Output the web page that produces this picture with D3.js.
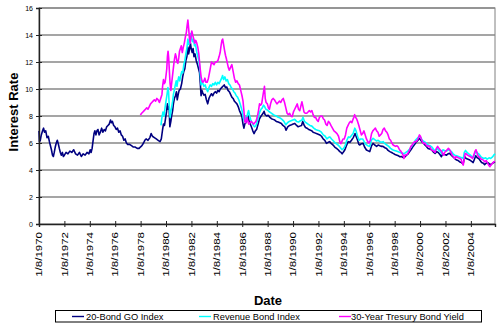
<!DOCTYPE html>
<html><head><meta charset="utf-8">
<script src="https://cdn.jsdelivr.net/npm/d3@7"></script>
<style>
html,body{margin:0;padding:0;background:#fff;}
svg{display:block;font-family:"Liberation Sans",Arial,sans-serif;}
</style></head>
<body><svg id="c" width="497" height="327"></svg>
<script>
// ---- data (decimal year, percent) ----
const goIndex = [[1970.02,6.9],[1970.06,6.1],[1970.12,6.2],[1970.2,6.6],[1970.3,6.9],[1970.38,7.1],[1970.45,6.8],[1970.55,6.9],[1970.65,6.4],[1970.75,6.5],[1970.84,6.1],[1970.92,5.8],[1971.0,5.5],[1971.08,5.1],[1971.15,5.0],[1971.22,5.3],[1971.3,5.7],[1971.38,6.0],[1971.46,6.2],[1971.55,5.9],[1971.62,5.6],[1971.7,5.3],[1971.78,5.1],[1971.86,5.3],[1971.94,5.0],[1972.02,5.1],[1972.15,5.3],[1972.3,5.2],[1972.45,5.4],[1972.6,5.3],[1972.75,5.5],[1972.9,5.2],[1973.05,5.1],[1973.2,5.3],[1973.35,5.0],[1973.5,5.2],[1973.65,5.1],[1973.8,5.3],[1973.95,5.2],[1974.05,5.5],[1974.12,5.3],[1974.2,5.6],[1974.28,6.2],[1974.35,6.7],[1974.42,6.9],[1974.5,6.6],[1974.58,6.9],[1974.66,7.0],[1974.75,6.6],[1974.85,6.8],[1974.95,7.1],[1975.05,6.8],[1975.15,7.0],[1975.25,6.9],[1975.35,7.2],[1975.45,7.3],[1975.55,7.4],[1975.65,7.7],[1975.72,7.5],[1975.8,7.6],[1975.9,7.3],[1976.0,7.2],[1976.1,7.0],[1976.2,7.1],[1976.3,6.8],[1976.4,6.9],[1976.5,6.6],[1976.6,6.5],[1976.7,6.2],[1976.8,6.3],[1976.9,6.0],[1977.0,5.9],[1977.15,5.9],[1977.3,5.8],[1977.45,5.7],[1977.6,5.7],[1977.75,5.6],[1977.9,5.6],[1978.0,5.7],[1978.12,5.8],[1978.25,6.0],[1978.35,6.2],[1978.45,6.3],[1978.6,6.2],[1978.75,6.4],[1978.85,6.7],[1978.95,6.5],[1979.1,6.4],[1979.25,6.3],[1979.4,6.2],[1979.55,6.1],[1979.65,6.3],[1979.75,7.0],[1979.82,7.4],[1979.9,7.3],[1979.98,7.8],[1980.06,8.3],[1980.13,8.9],[1980.2,8.5],[1980.26,8.7],[1980.32,7.2],[1980.4,7.6],[1980.46,8.0],[1980.54,8.4],[1980.6,8.9],[1980.68,9.3],[1980.76,9.5],[1980.84,9.8],[1980.9,9.2],[1980.98,9.6],[1981.05,9.9],[1981.15,10.0],[1981.25,10.4],[1981.33,10.9],[1981.42,11.3],[1981.5,11.5],[1981.58,12.1],[1981.66,12.4],[1981.74,13.1],[1981.8,12.6],[1981.86,12.9],[1981.94,13.4],[1982.0,13.0],[1982.08,12.7],[1982.15,13.0],[1982.22,12.4],[1982.3,12.6],[1982.4,12.1],[1982.5,11.8],[1982.58,11.5],[1982.66,11.2],[1982.72,10.4],[1982.78,9.5],[1982.84,9.9],[1982.92,9.7],[1983.0,9.55],[1983.1,9.6],[1983.2,9.2],[1983.3,8.9],[1983.4,9.3],[1983.5,9.5],[1983.6,9.65],[1983.7,9.5],[1983.8,9.7],[1983.9,9.8],[1984.0,9.7],[1984.1,9.9],[1984.2,9.8],[1984.3,10.0],[1984.4,10.1],[1984.5,10.2],[1984.6,10.3],[1984.7,10.1],[1984.8,10.15],[1984.9,9.9],[1985.0,9.8],[1985.1,9.6],[1985.2,9.4],[1985.3,9.3],[1985.4,9.1],[1985.5,9.0],[1985.6,8.9],[1985.7,8.7],[1985.8,8.4],[1985.9,8.2],[1986.0,7.9],[1986.08,7.4],[1986.15,7.1],[1986.22,7.4],[1986.3,7.5],[1986.4,7.8],[1986.48,8.0],[1986.56,7.6],[1986.65,7.4],[1986.74,7.2],[1986.85,6.9],[1986.95,6.7],[1987.05,6.9],[1987.15,7.0],[1987.27,7.4],[1987.38,7.8],[1987.48,7.95],[1987.58,8.1],[1987.66,8.2],[1987.74,8.35],[1987.82,8.1],[1987.95,8.0],[1988.06,8.05],[1988.2,7.9],[1988.32,7.8],[1988.45,7.75],[1988.58,7.7],[1988.7,7.6],[1988.85,7.55],[1988.98,7.5],[1989.1,7.45],[1989.22,7.3],[1989.37,7.2],[1989.47,6.95],[1989.6,7.2],[1989.75,7.3],[1989.9,7.35],[1990.03,7.4],[1990.16,7.45],[1990.3,7.3],[1990.42,7.2],[1990.55,7.25],[1990.69,7.3],[1990.78,7.6],[1990.9,7.3],[1991.0,7.15],[1991.12,7.1],[1991.25,7.0],[1991.4,6.95],[1991.5,6.9],[1991.6,6.8],[1991.73,6.75],[1991.86,6.7],[1992.0,6.65],[1992.13,6.6],[1992.26,6.5],[1992.39,6.3],[1992.52,6.2],[1992.65,5.97],[1992.78,6.05],[1992.9,6.1],[1993.04,5.95],[1993.17,5.85],[1993.3,5.7],[1993.44,5.6],[1993.57,5.5],[1993.7,5.36],[1993.8,5.3],[1993.88,5.2],[1994.0,5.35],[1994.1,5.5],[1994.22,5.8],[1994.36,6.1],[1994.5,6.05],[1994.62,6.2],[1994.76,6.4],[1994.9,6.7],[1994.98,6.5],[1995.1,6.2],[1995.2,5.9],[1995.28,5.85],[1995.4,5.95],[1995.54,5.97],[1995.65,5.7],[1995.8,5.48],[1995.98,5.4],[1996.06,5.36],[1996.2,5.8],[1996.32,5.97],[1996.45,5.85],[1996.6,5.75],[1996.72,5.85],[1996.85,5.8],[1997.0,5.75],[1997.1,5.75],[1997.25,5.65],[1997.38,5.6],[1997.5,5.45],[1997.64,5.36],[1997.78,5.3],[1997.9,5.23],[1998.05,5.15],[1998.2,5.1],[1998.32,5.05],[1998.43,4.98],[1998.56,5.0],[1998.69,4.93],[1998.82,4.97],[1998.95,5.1],[1999.08,5.2],[1999.2,5.36],[1999.34,5.55],[1999.47,5.75],[1999.6,5.9],[1999.74,6.1],[1999.85,6.2],[1999.94,6.35],[2000.05,6.25],[2000.15,6.1],[2000.28,6.0],[2000.4,5.85],[2000.52,5.75],[2000.65,5.6],[2000.78,5.55],[2000.92,5.5],[2001.05,5.35],[2001.2,5.23],[2001.33,5.36],[2001.45,5.3],[2001.58,5.15],[2001.7,4.98],[2001.8,5.23],[2001.95,5.15],[2002.1,5.1],[2002.22,5.2],[2002.35,5.23],[2002.48,5.1],[2002.6,4.98],[2002.75,4.85],[2002.9,4.74],[2003.02,4.7],[2003.15,4.6],[2003.28,4.55],[2003.4,4.45],[2003.47,4.7],[2003.54,4.98],[2003.65,4.85],[2003.8,4.8],[2003.94,4.74],[2004.06,4.65],[2004.2,4.55],[2004.3,4.8],[2004.4,5.05],[2004.52,4.9],[2004.64,4.85],[2004.75,4.7],[2004.86,4.55],[2005.0,4.5],[2005.1,4.4],[2005.22,4.5],[2005.35,4.55],[2005.48,4.45],[2005.6,4.4],[2005.72,4.5],[2005.82,4.55],[2005.92,4.6]];

const revenueIndex = [[1979.62,7.3],[1979.7,7.9],[1979.78,8.3],[1979.86,8.0],[1979.94,8.6],[1980.02,9.1],[1980.1,9.6],[1980.17,10.1],[1980.22,9.8],[1980.28,8.6],[1980.34,7.9],[1980.4,8.3],[1980.47,8.7],[1980.54,9.1],[1980.6,9.6],[1980.67,9.9],[1980.75,10.3],[1980.82,10.6],[1980.88,10.2],[1980.95,10.6],[1981.02,10.9],[1981.1,10.6],[1981.18,11.0],[1981.26,11.3],[1981.34,11.2],[1981.42,11.8],[1981.5,12.1],[1981.58,12.6],[1981.66,13.0],[1981.74,13.7],[1981.8,13.3],[1981.88,13.6],[1981.95,14.1],[1982.02,13.8],[1982.1,13.5],[1982.18,13.7],[1982.26,13.2],[1982.34,13.3],[1982.42,12.8],[1982.5,12.5],[1982.58,12.2],[1982.66,11.7],[1982.72,11.0],[1982.78,10.3],[1982.84,10.6],[1982.92,10.4],[1983.0,10.2],[1983.1,10.3],[1983.2,10.0],[1983.3,9.8],[1983.4,10.1],[1983.5,10.3],[1983.6,10.2],[1983.7,10.4],[1983.8,10.3],[1983.9,10.5],[1984.0,10.3],[1984.1,10.5],[1984.2,10.4],[1984.3,10.6],[1984.4,10.8],[1984.47,11.0],[1984.55,10.7],[1984.65,10.9],[1984.75,10.6],[1984.85,10.7],[1984.95,10.4],[1985.05,10.3],[1985.15,10.1],[1985.25,10.0],[1985.35,9.8],[1985.45,9.7],[1985.55,9.5],[1985.65,9.4],[1985.75,9.2],[1985.85,8.9],[1985.95,8.6],[1986.05,8.2],[1986.12,7.8],[1986.2,7.6],[1986.28,7.9],[1986.36,7.8],[1986.45,8.2],[1986.52,8.4],[1986.6,8.0],[1986.7,7.7],[1986.8,7.5],[1986.9,7.3],[1987.0,7.2],[1987.1,7.3],[1987.2,7.6],[1987.3,8.0],[1987.4,8.3],[1987.5,8.5],[1987.6,8.6],[1987.7,8.8],[1987.78,8.7],[1987.88,8.5],[1988.0,8.45],[1988.1,8.35],[1988.25,8.25],[1988.4,8.15],[1988.55,8.05],[1988.7,8.0],[1988.85,7.9],[1989.0,7.85],[1989.15,7.75],[1989.3,7.6],[1989.45,7.35],[1989.58,7.5],[1989.72,7.6],[1989.86,7.65],[1990.0,7.7],[1990.15,7.75],[1990.3,7.6],[1990.45,7.55],[1990.6,7.65],[1990.72,7.7],[1990.8,7.9],[1990.92,7.6],[1991.05,7.5],[1991.2,7.4],[1991.35,7.3],[1991.5,7.25],[1991.65,7.1],[1991.8,7.0],[1991.95,6.95],[1992.1,6.9],[1992.25,6.8],[1992.4,6.6],[1992.55,6.5],[1992.68,6.3],[1992.8,6.4],[1992.92,6.45],[1993.05,6.3],[1993.2,6.15],[1993.35,6.0],[1993.5,5.9],[1993.62,5.8],[1993.75,5.65],[1993.88,5.5],[1994.0,5.6],[1994.12,5.8],[1994.25,6.2],[1994.38,6.45],[1994.5,6.4],[1994.62,6.55],[1994.75,6.7],[1994.88,7.1],[1994.98,6.9],[1995.1,6.5],[1995.22,6.2],[1995.35,6.3],[1995.5,6.3],[1995.62,6.1],[1995.75,5.9],[1995.9,5.8],[1996.06,5.75],[1996.18,6.2],[1996.32,6.35],[1996.45,6.25],[1996.6,6.15],[1996.72,6.2],[1996.85,6.1],[1997.0,6.05],[1997.12,6.1],[1997.25,5.95],[1997.4,5.85],[1997.55,5.75],[1997.7,5.6],[1997.85,5.5],[1998.0,5.45],[1998.15,5.4],[1998.3,5.35],[1998.45,5.3],[1998.6,5.25],[1998.75,5.2],[1998.9,5.3],[1999.05,5.4],[1999.2,5.55],[1999.35,5.75],[1999.5,5.95],[1999.65,6.2],[1999.8,6.35],[1999.95,6.5],[2000.08,6.4],[2000.2,6.2],[2000.35,6.1],[2000.5,6.0],[2000.65,5.85],[2000.8,5.8],[2000.95,5.7],[2001.1,5.5],[2001.22,5.45],[2001.35,5.6],[2001.5,5.45],[2001.62,5.35],[2001.72,5.2],[2001.82,5.5],[2001.95,5.45],[2002.1,5.4],[2002.25,5.5],[2002.38,5.45],[2002.5,5.35],[2002.62,5.2],[2002.75,5.1],[2002.9,5.05],[2003.05,5.0],[2003.18,4.95],[2003.3,4.9],[2003.42,4.85],[2003.5,5.3],[2003.6,5.45],[2003.72,5.3],[2003.85,5.2],[2003.98,5.1],[2004.1,5.0],[2004.22,4.95],[2004.32,5.2],[2004.42,5.4],[2004.55,5.25],[2004.68,5.15],[2004.8,5.0],[2004.92,4.9],[2005.05,4.85],[2005.18,4.9],[2005.3,4.8],[2005.45,4.9],[2005.58,4.85],[2005.7,4.95],[2005.82,5.1],[2005.92,5.2]];

const treasury30 = [[1978.0,8.07],[1978.1,8.2],[1978.2,8.3],[1978.3,8.4],[1978.4,8.5],[1978.5,8.6],[1978.6,8.5],[1978.7,8.7],[1978.8,8.9],[1978.9,9.0],[1979.0,9.1],[1979.1,9.2],[1979.2,9.1],[1979.3,9.3],[1979.4,9.2],[1979.5,9.0],[1979.6,9.3],[1979.7,9.6],[1979.75,10.2],[1979.82,10.7],[1979.88,10.4],[1979.95,10.5],[1980.02,11.0],[1980.08,11.5],[1980.13,12.4],[1980.18,12.8],[1980.23,12.3],[1980.28,11.4],[1980.34,10.4],[1980.4,9.9],[1980.46,10.4],[1980.52,10.9],[1980.58,11.4],[1980.64,11.9],[1980.7,12.3],[1980.76,12.6],[1980.82,12.4],[1980.88,12.0],[1980.95,11.9],[1981.02,12.3],[1981.08,12.8],[1981.15,13.0],[1981.22,13.2],[1981.3,12.7],[1981.38,13.1],[1981.46,13.4],[1981.55,13.9],[1981.62,14.2],[1981.68,14.7],[1981.74,15.1],[1981.8,14.5],[1981.86,13.8],[1981.92,13.4],[1981.98,13.9],[1982.05,14.3],[1982.12,14.0],[1982.2,13.7],[1982.28,13.4],[1982.36,13.6],[1982.44,13.4],[1982.52,13.1],[1982.6,12.6],[1982.66,12.0],[1982.72,11.4],[1982.78,10.9],[1982.85,10.6],[1982.92,10.5],[1983.0,10.6],[1983.08,10.8],[1983.16,10.5],[1983.26,10.5],[1983.36,10.8],[1983.44,11.2],[1983.52,11.6],[1983.6,12.0],[1983.7,11.9],[1983.8,11.8],[1983.9,12.0],[1984.0,12.0],[1984.1,12.1],[1984.2,12.4],[1984.28,12.7],[1984.35,13.2],[1984.42,13.6],[1984.48,13.7],[1984.55,13.3],[1984.62,12.9],[1984.7,12.5],[1984.78,12.2],[1984.85,11.9],[1984.92,11.6],[1985.0,11.4],[1985.1,11.6],[1985.2,11.8],[1985.3,11.3],[1985.4,10.8],[1985.5,10.5],[1985.6,10.6],[1985.7,10.4],[1985.8,10.3],[1985.9,9.9],[1986.0,9.5],[1986.08,9.1],[1986.15,8.4],[1986.22,7.6],[1986.3,7.5],[1986.38,7.9],[1986.46,7.6],[1986.54,7.4],[1986.62,7.5],[1986.72,7.6],[1986.82,7.5],[1986.92,7.4],[1987.0,7.5],[1987.1,7.6],[1987.2,7.9],[1987.3,8.4],[1987.38,8.9],[1987.46,8.8],[1987.55,8.9],[1987.63,9.4],[1987.7,9.8],[1987.77,10.2],[1987.83,9.3],[1987.9,9.0],[1988.0,8.9],[1988.08,8.6],[1988.16,8.5],[1988.25,8.9],[1988.35,9.2],[1988.45,9.3],[1988.55,9.2],[1988.65,9.05],[1988.75,8.9],[1988.85,9.0],[1988.95,9.1],[1989.05,9.0],[1989.15,9.2],[1989.25,9.3],[1989.35,9.0],[1989.45,8.6],[1989.55,8.2],[1989.65,8.1],[1989.75,8.2],[1989.85,8.0],[1989.95,7.95],[1990.05,8.3],[1990.15,8.5],[1990.25,8.7],[1990.35,8.9],[1990.45,8.5],[1990.55,8.4],[1990.65,8.8],[1990.72,9.05],[1990.8,8.7],[1990.88,8.3],[1990.98,8.2],[1991.1,8.2],[1991.2,8.3],[1991.3,8.4],[1991.4,8.3],[1991.5,8.4],[1991.6,8.1],[1991.7,7.9],[1991.8,7.9],[1991.9,7.7],[1992.0,7.6],[1992.1,7.9],[1992.2,8.0],[1992.3,8.0],[1992.4,7.8],[1992.5,7.7],[1992.6,7.4],[1992.7,7.3],[1992.8,7.6],[1992.9,7.5],[1993.0,7.3],[1993.12,7.1],[1993.24,6.9],[1993.36,6.8],[1993.48,6.7],[1993.6,6.5],[1993.7,6.1],[1993.78,5.95],[1993.86,6.1],[1993.95,6.3],[1994.05,6.3],[1994.15,6.6],[1994.25,7.1],[1994.35,7.3],[1994.45,7.5],[1994.55,7.6],[1994.65,7.5],[1994.72,7.7],[1994.8,7.9],[1994.87,8.1],[1994.94,7.9],[1995.02,7.8],[1995.1,7.6],[1995.2,7.3],[1995.3,6.95],[1995.4,6.6],[1995.5,6.7],[1995.6,6.9],[1995.7,6.6],[1995.8,6.3],[1995.9,6.1],[1996.0,6.0],[1996.1,6.2],[1996.2,6.7],[1996.3,6.9],[1996.4,7.0],[1996.5,7.1],[1996.6,6.9],[1996.7,6.8],[1996.8,6.5],[1996.9,6.6],[1997.0,6.7],[1997.1,7.0],[1997.2,7.1],[1997.3,6.9],[1997.4,6.8],[1997.5,6.6],[1997.6,6.3],[1997.7,6.2],[1997.8,6.0],[1997.9,5.85],[1998.0,5.8],[1998.1,5.75],[1998.2,5.8],[1998.3,5.7],[1998.4,5.5],[1998.5,5.4],[1998.6,5.25],[1998.68,5.1],[1998.75,4.85],[1998.82,5.1],[1998.9,5.1],[1999.0,5.15],[1999.1,5.3],[1999.2,5.5],[1999.3,5.75],[1999.4,5.85],[1999.5,6.0],[1999.6,6.1],[1999.7,6.1],[1999.8,6.2],[1999.9,6.4],[1999.97,6.6],[2000.05,6.5],[2000.12,6.3],[2000.2,6.1],[2000.3,5.95],[2000.4,6.0],[2000.5,5.85],[2000.6,5.75],[2000.7,5.8],[2000.8,5.7],[2000.9,5.5],[2001.0,5.45],[2001.1,5.4],[2001.2,5.3],[2001.3,5.6],[2001.4,5.75],[2001.5,5.6],[2001.6,5.5],[2001.7,5.4],[2001.8,5.2],[2001.88,5.1],[2001.95,5.3],[2002.05,5.4],[2002.15,5.5],[2002.25,5.6],[2002.35,5.5],[2002.45,5.3],[2002.55,5.1],[2002.65,5.0],[2002.75,4.85],[2002.85,5.0],[2002.95,4.95],[2003.05,4.9],[2003.15,4.85],[2003.25,4.8],[2003.35,4.5],[2003.42,4.36],[2003.5,4.8],[2003.57,5.23],[2003.65,5.2],[2003.75,5.1],[2003.85,5.05],[2003.95,5.0],[2004.05,4.95],[2004.15,4.85],[2004.25,5.1],[2004.35,5.4],[2004.42,5.5],[2004.52,5.2],[2004.62,5.0],[2004.72,4.95],[2004.82,4.8],[2004.92,4.8],[2005.02,4.7],[2005.12,4.6],[2005.22,4.7],[2005.32,4.55],[2005.42,4.35],[2005.52,4.25],[2005.62,4.4],[2005.72,4.5],[2005.82,4.6],[2005.92,4.65]];

const seriesNames = ["20-Bond GO Index", "Revenue Bond Index", "30-Year Tresury Bond Yield"];
const seriesColors = ["#000080", "#00FFFF", "#FF00FF"];
const yTicks = [0, 2, 4, 6, 8, 10, 12, 14, 16];
const xTickYears = [1970,1972,1974,1976,1978,1980,1982,1984,1986,1988,1990,1992,1994,1996,1998,2000,2002,2004];
const xStart = "1970-01-08", xEnd = "2005-12-02";

// ---- chart ----
const svg = d3.select("#c");
const L = 39, R = 495, T = 8, B = 224;
const toDate = y => { const yr = Math.floor(y); const s = new Date(yr,0,1), e = new Date(yr+1,0,1); return new Date(+s + (y-yr)*(e-s)); };
const x = d3.scaleTime().domain([new Date(xStart), new Date(xEnd)]).range([L, R]);
const y = d3.scaleLinear().domain([0, 16]).range([B, T]);

// plot area border
svg.append("rect").attr("x", L).attr("y", T).attr("width", R-L).attr("height", B-T)
  .attr("fill", "#fff").attr("stroke", "#808080").attr("stroke-width", 1);

// gridlines
svg.append("g").selectAll("line").data(yTicks.filter(d => d > 0)).join("line")
  .attr("x1", L).attr("x2", R).attr("y1", d => y(d)).attr("y2", d => y(d))
  .attr("stroke", "#878787").attr("stroke-width", 1.6);

// lines
const line = d3.line().x(d => x(toDate(d[0]))).y(d => y(d[1]));
[goIndex, revenueIndex, treasury30].forEach((s, i) => {
  svg.append("path").datum(s).attr("d", line).attr("fill", "none")
    .attr("stroke", seriesColors[i]).attr("stroke-width", 1.6).attr("stroke-linejoin", "round");
});

// y axis
const yAxis = d3.axisLeft(y).tickValues(yTicks).tickSize(3).tickPadding(3);
const gy = svg.append("g").attr("transform", `translate(${L},0)`).call(yAxis);
gy.select(".domain").attr("stroke", "#222").attr("stroke-width", 1.4);
gy.selectAll(".tick line").attr("x2", -3).attr("x1", 3).attr("stroke", "#222");
gy.selectAll(".tick text").attr("font-size", 7).attr("fill", "#000")
  .attr("font-family", "Liberation Sans, Arial, sans-serif").attr("x", -6);

// x axis
const xTickDates = xTickYears.map(yr => new Date(yr, 0, 8));
const xAxis = d3.axisBottom(x).tickValues(xTickDates).tickSize(3).tickFormat("");
const gx = svg.append("g").attr("transform", `translate(0,${B})`).call(xAxis);
gx.select(".domain").attr("stroke", "#222").attr("stroke-width", 1.4);
gx.selectAll(".tick line").attr("y1", -3).attr("y2", 3).attr("stroke", "#222");
svg.append("g").selectAll("text").data(xTickDates).join("text")
  .attr("transform", d => `translate(${x(d)+3.3},${B+8}) rotate(-90) scale(1.28,1)`)
  .attr("text-anchor", "end").attr("font-size", 9).attr("fill", "#000")
  .text(d => `1/8/${d.getFullYear()}`);

// axis titles
svg.append("text").attr("transform", `translate(18,112) rotate(-90)`)
  .attr("text-anchor", "middle").attr("font-size", 13).attr("font-weight", "bold").text("Interest Rate");
svg.append("text").attr("x", 268).attr("y", 305).attr("text-anchor", "middle")
  .attr("font-size", 13).attr("font-weight", "bold").text("Date");

// legend
svg.append("rect").attr("x", 55.5).attr("y", 310.5).attr("width", 426).attr("height", 11.5)
  .attr("fill", "#fff").attr("stroke", "#000").attr("stroke-width", 1);
const legX = [[72, 86], [199, 213], [339, 351]];
seriesNames.forEach((n, i) => {
  svg.append("line").attr("x1", legX[i][0]).attr("x2", legX[i][0]+12).attr("y1", 316.5).attr("y2", 316.5)
    .attr("stroke", seriesColors[i]).attr("stroke-width", 1.4);
  svg.append("text").attr("x", legX[i][1]).attr("y", 319.8).attr("font-size", 9.3).text(n);
});
</script></body></html>
